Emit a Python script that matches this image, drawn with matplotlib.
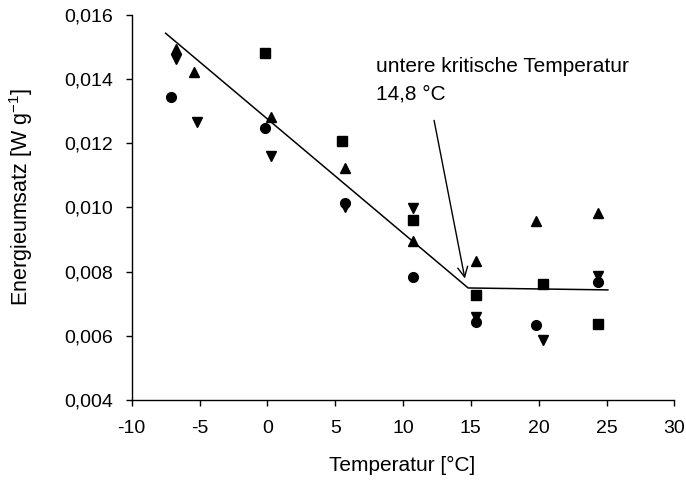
import matplotlib
matplotlib.use("Agg")
from matplotlib import pyplot as plt
from matplotlib.ticker import FuncFormatter

plt.rcParams["font.family"] = ["Liberation Sans", "DejaVu Sans"]
plt.rcParams["axes.unicode_minus"] = False

square_t = [-0.2, 5.5, 10.7, 15.4, 20.3, 24.4]
square_e = [0.0148, 0.01207, 0.00961, 0.00727, 0.00761, 0.00637]

tri_up_t = [-6.7, -5.4, 0.3, 5.7, 10.7, 15.4, 19.8, 24.4]
tri_up_e = [0.01493, 0.01423, 0.01283, 0.01122, 0.00896, 0.00833, 0.00959, 0.00984]

tri_down_t = [-6.7, -5.2, 0.3, 5.7, 10.7, 15.4, 20.3, 24.4]
tri_down_e = [0.01462, 0.01267, 0.0116, 0.0100, 0.00997, 0.0066, 0.00587, 0.00786]

circle_t = [-7.1, -0.2, 5.7, 10.7, 15.4, 19.8, 24.4]
circle_e = [0.01343, 0.01247, 0.01015, 0.00782, 0.00644, 0.00634, 0.00769]

# broken-stick fit
fit_t = [-7.5, 14.8, 25.1]
fit_e = [0.01543, 0.00749, 0.00743]

lct_lines = ["untere kritische Temperatur", "14,8 °C"]
lct_text_x = 8.0
lct_text_y = [0.01423, 0.01337]
lct_tip = (14.6, 0.0077)
lct_tail = (12.25, 0.0128)

fig = plt.figure(figsize=(6.86, 4.83), dpi=100)
ax = fig.add_axes([0.192, 0.172, 0.791, 0.797])

ax.plot(fit_t, fit_e, color="black", lw=1.1, zorder=2)

mk = dict(color="black", linestyle="none", markersize=7, zorder=3)
ax.plot(square_t, square_e, marker="s", **mk)
ax.plot(tri_up_t, tri_up_e, marker="^", **mk)
ax.plot(tri_down_t, tri_down_e, marker="v", **mk)
ax.plot(circle_t, circle_e, marker="o", **mk)

ax.annotate(
    "",
    xy=lct_tip,
    xytext=lct_tail,
    arrowprops=dict(arrowstyle="->", color="black", lw=1.0, mutation_scale=18),
)
for line, y in zip(lct_lines, lct_text_y):
    ax.text(lct_text_x, y, line, fontsize=15, ha="left", va="baseline")

ax.set_xlim(-10, 30)
ax.set_ylim(0.004, 0.016)
ax.set_xticks(range(-10, 31, 5))
ax.set_yticks([0.004, 0.006, 0.008, 0.010, 0.012, 0.014, 0.016])
ax.yaxis.set_major_formatter(FuncFormatter(lambda v, _: f"{v:.3f}".replace(".", ",")))

for side in ("top", "right"):
    ax.spines[side].set_visible(False)
for side in ("left", "bottom"):
    ax.spines[side].set_linewidth(1.0)
ax.tick_params(direction="out", length=4.3, width=1.0, labelsize=14)
ax.tick_params(axis="x", pad=10)
ax.tick_params(axis="y", pad=9)

ax.set_xlabel("Temperatur [°C]", fontsize=15)
ax.set_ylabel("Energieumsatz [W g$^{\\mathregular{-1}}$]", fontsize=15.5)
ax.xaxis.set_label_coords(0.498, -0.145)
ax.yaxis.set_label_coords(-0.178, 0.526)

fig.savefig("out.png", dpi=100)
